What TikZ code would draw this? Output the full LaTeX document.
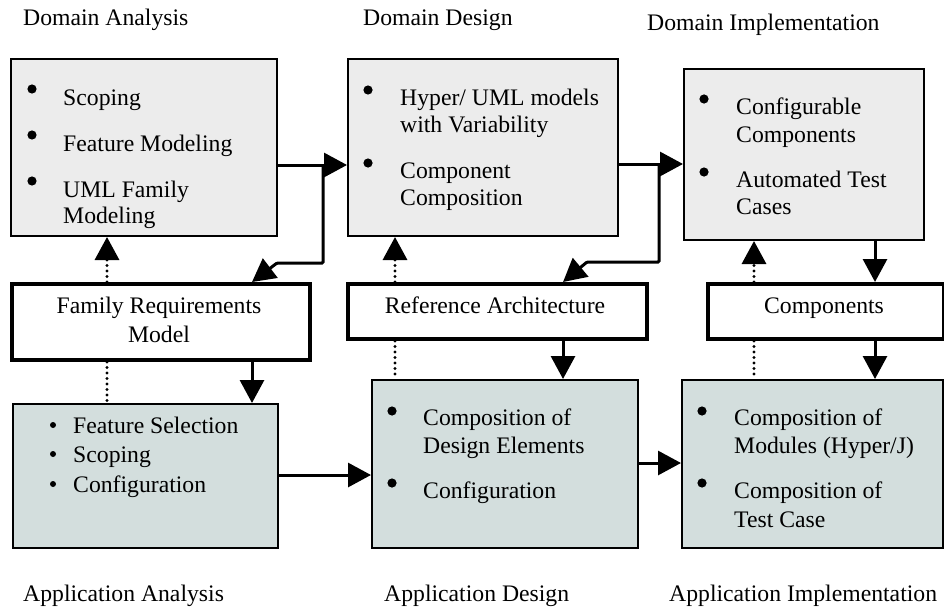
\documentclass[tikz,border=0pt]{standalone}
\usepackage{fontspec}
\setmainfont{Liberation Serif}
\usetikzlibrary{arrows.meta}
\definecolor{topfill}{RGB}{236,236,236}
\definecolor{botfill}{RGB}{211,222,221}
\tikzset{
  txt/.style={font=\fontsize{23.7}{26}\selectfont, inner sep=0pt, anchor=base west},
  ctxt/.style={font=\fontsize{23.7}{26}\selectfont, inner sep=0pt, anchor=base},
  topbox/.style={draw, line width=2pt, fill=topfill, anchor=north west, inner sep=0pt},
  midbox/.style={draw, line width=4pt, fill=white, anchor=north west, inner sep=0pt},
  botbox/.style={draw, line width=2pt, fill=botfill, anchor=north west, inner sep=0pt},
  arr/.style={line width=3pt, -{Triangle[length=23pt,width=24pt]}},
  dotarr/.style={line width=3.2pt, line cap=round, dash pattern=on 0pt off 5.5pt, -{Triangle[length=23pt,width=24pt]}},
  dotline/.style={line width=3.2pt, line cap=round, dash pattern=on 0pt off 5.5pt},
}
\begin{document}
\begin{tikzpicture}[x=1pt,y=-1pt]
\useasboundingbox (0,0) rectangle (944,610);
% phase labels
\node[txt] (lda) at (23,26) {Domain Analysis};
\node[txt] (ldd) at (363,26) {Domain Design};
\node[txt] (ldi) at (647,31) {Domain Implementation};
\node[txt] (laa) at (23,601) {Application Analysis};
\node[txt] (lad) at (384,601) {Application Design};
\node[txt] (lai) at (669,601) {Application Implementation};
% boxes
\node[topbox, minimum width=266pt, minimum height=177pt] (a1) at (10,58) {};
\node[topbox, minimum width=270pt, minimum height=177pt] (d1) at (347,58) {};
\node[topbox, minimum width=240pt, minimum height=171pt] (i1) at (683,68) {};
\node[midbox, minimum width=298pt, minimum height=76pt] (fam) at (10,282) {};
\node[midbox, minimum width=299pt, minimum height=55pt] (ref) at (346,282) {};
\node[midbox, minimum width=236pt, minimum height=55pt] (cmp) at (706,282) {};
\node[botbox, minimum width=265pt, minimum height=144pt] (a2) at (12,403) {};
\node[botbox, minimum width=266pt, minimum height=168pt] (d2) at (371,379) {};
\node[botbox, minimum width=261pt, minimum height=168pt] (i2) at (681,379) {};
% texts in top boxes
\fill (32,89) circle (4.6pt); \fill (32,135) circle (4.6pt); \fill (32,181) circle (4.6pt);
\node[txt] (a1t1) at (63,105) {Scoping};
\node[txt] (a1t2) at (63,151) {Feature Modeling};
\node[txt] (a1t3) at (63,197) {UML Family};
\node[txt] (a1t4) at (63,223) {Modeling};
\fill (368,90) circle (4.6pt); \fill (368,163) circle (4.6pt);
\node[txt] (d1t1) at (400,105) {Hyper/ UML models};
\node[txt] (d1t2) at (400,132) {with Variability};
\node[txt] (d1t3) at (400,178) {Component};
\node[txt] (d1t4) at (400,205) {Composition};
\fill (704,99) circle (4.6pt); \fill (704,172) circle (4.6pt);
\node[txt] (i1t1) at (736,114) {Configurable};
\node[txt] (i1t2) at (736,142) {Components};
\node[txt] (i1t3) at (736,187) {Automated Test};
\node[txt] (i1t4) at (736,214) {Cases};
% middle boxes
\node[ctxt] (famt1) at (159,313) {Family Requirements};
\node[ctxt] (famt2) at (159,342) {Model};
\node[ctxt] (reft) at (495,313) {Reference Architecture};
\node[ctxt] (cmpt) at (824,313) {Components};
% bottom boxes
\fill (53,425) circle (3pt); \fill (53,454) circle (3pt); \fill (53,484) circle (3pt);
\node[txt] (a2t1) at (73,433) {Feature Selection};
\node[txt] (a2t2) at (73,462) {Scoping};
\node[txt] (a2t3) at (73,492) {Configuration};
\fill (392,411) circle (4.6pt); \fill (392,483) circle (4.6pt);
\node[txt] (d2t1) at (423,425) {Composition of};
\node[txt] (d2t2) at (423,453) {Design Elements};
\node[txt] (d2t3) at (423,498) {Configuration};
\fill (702,411) circle (4.6pt); \fill (702,483) circle (4.6pt);
\node[txt] (i2t1) at (734,425) {Composition of};
\node[txt] (i2t2) at (734,453) {Modules (Hyper/J)};
\node[txt] (i2t3) at (734,498) {Composition of};
\node[txt] (i2t4) at (734,527) {Test Case};
% helper coordinates
\coordinate (r1) at (0,165);
\coordinate (j1) at (323,165);
\coordinate (k1) at (277,263);
\coordinate (t1) at (252,0);
\coordinate (r2) at (0,164);
\coordinate (j2) at (659,164);
\coordinate (k2) at (587,262);
\coordinate (t2) at (563,0);
\coordinate (c1) at (107,0);
\coordinate (c2) at (395,0);
\coordinate (c3) at (754,0);
\coordinate (c4) at (875,0);
\coordinate (r3) at (0,475);
\coordinate (r4) at (0,463);
% connectors top row
\draw[arr] (r1 -| a1.east) -- (r1 -| d1.west);
\draw[arr, rounded corners=1pt] (j1) |- (k1) -- (fam.north -| t1);
\draw[arr] (r2 -| d1.east) -- (r2 -| i1.west);
\draw[arr, rounded corners=1pt] (j2) |- (k2) -- (ref.north -| t2);
% dotted
\draw[dotarr] (c1 |- fam.north) -- (c1 |- a1.south);
\draw[dotline] (c1 |- fam.south) -- (c1 |- a2.north);
\draw[dotarr] (c2 |- ref.north) -- (c2 |- d1.south);
\draw[dotline] (c2 |- ref.south) -- (c2 |- d2.north);
\draw[dotarr] (c3 |- cmp.north) -- (c3 |- i1.south);
\draw[dotline] (c3 |- cmp.south) -- (c3 |- i2.north);
% solid down
\draw[arr] (t1 |- fam.south) -- (t1 |- a2.north);
\draw[arr] (t2 |- ref.south) -- (t2 |- d2.north);
\draw[arr] (c4 |- i1.south) -- (c4 |- cmp.north);
\draw[arr] (c4 |- cmp.south) -- (c4 |- i2.north);
% bottom horizontal
\draw[arr] (r3 -| a2.east) -- (r3 -| d2.west);
\draw[arr] (r4 -| d2.east) -- (r4 -| i2.west);
\end{tikzpicture}
\end{document}
